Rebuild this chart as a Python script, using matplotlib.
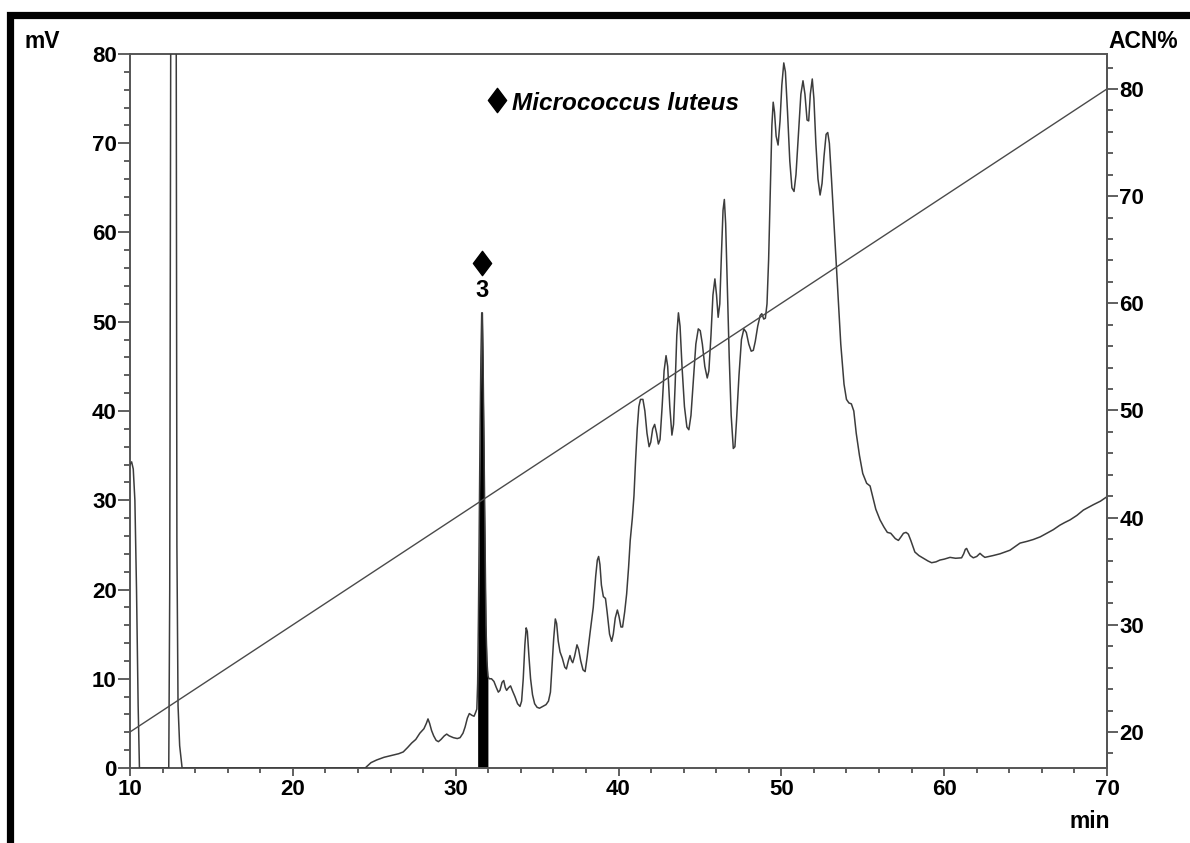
import matplotlib
matplotlib.use("Agg")
import matplotlib.pyplot as plt
import numpy as np
from matplotlib.lines import Line2D
from matplotlib.path import Path
from matplotlib.ticker import MultipleLocator
from matplotlib.transforms import offset_copy

plt.rcParams["font.family"] = ["Liberation Sans", "DejaVu Sans"]
plt.rcParams["font.weight"] = "bold"

# chromatogram trace (min, mV)
time_min = [
    10.00, 10.10, 10.20, 10.30, 10.40, 10.50, 10.58,
    12.38, 12.44, 12.50, 12.56, 12.68, 12.80, 12.84, 12.88, 12.95, 13.05, 13.20,
    24.45, 24.53, 24.80, 25.15, 25.60, 26.16, 26.50, 26.78, 27.05, 27.30, 27.55,
    27.80, 28.05, 28.20, 28.30, 28.40, 28.52, 28.65, 28.80, 28.94, 29.10, 29.30,
    29.45, 29.60, 29.86, 30.10, 30.27, 30.45, 30.58, 30.72, 30.84, 31.00, 31.13,
    31.22, 31.30,
    31.35, 31.40, 31.45, 31.50, 31.55, 31.60, 31.64, 31.68, 31.74, 31.80, 31.86,
    31.92, 31.98,
    32.05, 32.20, 32.35, 32.50, 32.62, 32.72, 32.85, 32.95, 33.05, 33.13, 33.25,
    33.37, 33.50, 33.64, 33.80, 33.95, 34.05, 34.15, 34.25, 34.33, 34.40, 34.50,
    34.60, 34.72, 34.85, 35.00, 35.15, 35.35, 35.55, 35.70, 35.82, 35.92, 36.02,
    36.12, 36.20, 36.30, 36.41, 36.55, 36.70, 36.80, 36.92, 37.02, 37.12, 37.19,
    37.30, 37.45, 37.55, 37.68, 37.82, 37.95, 38.08, 38.25, 38.45, 38.60, 38.70,
    38.78, 38.86, 38.95, 39.07, 39.20, 39.30, 39.45, 39.58, 39.68, 39.80, 39.93,
    40.03, 40.15, 40.25, 40.38, 40.50, 40.62, 40.72, 40.85, 40.95, 41.05, 41.15,
    41.25, 41.35, 41.50, 41.62, 41.75, 41.88, 41.98, 42.10, 42.22, 42.34, 42.45,
    42.55, 42.68, 42.80, 42.92, 43.02, 43.15, 43.28, 43.38, 43.48, 43.58, 43.68,
    43.78, 43.90, 44.05, 44.20, 44.32, 44.45, 44.60, 44.75, 44.90, 45.02, 45.15,
    45.30, 45.45, 45.55, 45.68, 45.80, 45.92, 46.02, 46.12, 46.22, 46.32, 46.42,
    46.50, 46.58, 46.68, 46.80, 46.92, 47.05, 47.15, 47.25, 47.40, 47.55, 47.70,
    47.85, 48.00, 48.15, 48.28, 48.40, 48.55, 48.70, 48.80, 48.92, 49.02, 49.12,
    49.22, 49.32, 49.42, 49.50, 49.58, 49.68, 49.80, 49.92, 50.03, 50.15, 50.25,
    50.38, 50.52, 50.65, 50.78, 50.90, 51.05, 51.20, 51.33, 51.45, 51.58, 51.68,
    51.78, 51.90, 52.00, 52.12, 52.25, 52.38, 52.50, 52.62, 52.75, 52.85, 52.95,
    53.08, 53.25, 53.45, 53.65, 53.85, 54.00, 54.15, 54.30, 54.45, 54.60, 54.80,
    55.00, 55.24, 55.45, 55.60, 55.80, 56.06, 56.30, 56.51, 56.72, 57.00, 57.19,
    57.35, 57.50, 57.66, 57.80, 57.95, 58.20, 58.45, 58.72, 59.00, 59.23, 59.50,
    59.74, 60.00, 60.36, 60.70, 61.07, 61.20, 61.30, 61.38, 61.48, 61.60, 61.79,
    62.00, 62.20, 62.35, 62.50, 63.00, 63.43, 64.04, 64.66, 65.10, 65.47, 65.90,
    66.30, 66.70, 67.10, 67.40, 67.73, 68.15, 68.55, 68.85, 69.16, 69.60, 70.00,
]
signal_mv = [
    34.0, 34.3, 33.5, 30.0, 20.0, 7.0, 0.0,
    0.0, 20.0, 80.0, 150.0, 200.0, 150.0, 80.0, 25.0, 7.0, 2.5, 0.0,
    0.0, 0.15, 0.6, 0.9, 1.2, 1.45, 1.6, 1.8, 2.3, 2.8, 3.2,
    3.9, 4.4, 5.0, 5.5, 5.0, 4.2, 3.6, 3.1, 2.95, 3.2, 3.6,
    3.8, 3.6, 3.4, 3.3, 3.4, 3.9, 4.6, 5.6, 6.1, 5.9, 5.8,
    6.2, 6.6,
    9.5, 17.0, 28.0, 38.0, 46.0, 51.0, 51.0, 46.0, 36.0, 25.0, 16.0,
    12.0, 10.3,
    10.0, 10.0, 9.7, 9.0, 8.5, 8.7, 9.6, 9.8, 9.0, 8.7, 9.0,
    9.2, 8.6, 8.0, 7.2, 6.9, 7.5, 10.0, 13.8, 15.7, 15.3, 12.5,
    10.0, 8.2, 7.2, 6.8, 6.7, 6.9, 7.1, 7.5, 8.5, 11.5, 14.5,
    16.7, 16.2, 14.2, 13.0, 12.3, 11.3, 11.1, 12.0, 12.6, 12.0, 11.8,
    12.5, 13.8, 13.3, 12.0, 11.0, 10.8, 12.5, 15.1, 18.0, 21.5, 23.3,
    23.7, 22.8, 20.5, 19.2, 19.0, 17.5, 15.0, 14.2, 15.0, 16.8, 17.7,
    17.0, 15.8, 15.8, 17.5, 19.5, 22.5, 25.5, 28.0, 30.5, 34.5, 38.0,
    40.5, 41.3, 41.3, 40.0, 37.5, 36.0, 36.5, 38.0, 38.5, 37.5, 36.3,
    36.8, 40.5, 44.5, 46.2, 45.0, 40.5, 37.3, 38.5, 43.0, 48.5, 51.0,
    49.5, 45.0, 40.5, 38.2, 37.9, 39.5, 43.5, 47.5, 49.2, 49.0, 47.5,
    45.0, 43.7, 44.5, 48.5, 53.0, 54.8, 53.0, 50.5, 52.0, 57.5, 62.5,
    63.7, 61.0, 54.0, 46.0, 39.5, 35.8, 36.0, 39.0, 44.0, 48.0, 49.2,
    48.8, 47.5, 46.7, 46.8, 47.8, 49.5, 50.7, 50.9, 50.3, 50.4, 52.0,
    57.0, 64.5, 72.0, 74.6, 73.5, 70.8, 69.8, 72.5, 76.5, 79.0, 78.0,
    73.5, 68.0, 65.0, 64.6, 66.5, 71.0, 75.5, 77.0, 75.5, 72.6, 72.5,
    75.5, 77.2, 75.0, 70.0, 66.0, 64.2, 65.5, 68.5, 71.0, 71.2, 70.0,
    66.0, 60.5, 54.0, 47.5, 43.0, 41.3, 40.9, 40.8, 40.0, 37.5, 35.0,
    33.0, 31.9, 31.6, 30.5, 29.0, 27.8, 27.0, 26.4, 26.3, 25.7, 25.5,
    25.9, 26.3, 26.4, 26.2, 25.5, 24.2, 23.8, 23.5, 23.2, 23.0, 23.1,
    23.3, 23.4, 23.6, 23.5, 23.55, 24.0, 24.5, 24.6, 24.2, 23.8, 23.55,
    23.7, 24.05, 23.8, 23.6, 23.8, 24.0, 24.4, 25.2, 25.4, 25.6, 25.9,
    26.3, 26.7, 27.2, 27.5, 27.8, 28.3, 28.9, 29.2, 29.5, 29.9, 30.4,
]

# gradient program (min, ACN %)
gradient_min = [10, 70]
gradient_acn = [20, 80]

# marked peak 3 (integrated window) and its label
peak3_window = (31.35, 31.98)
peak3_label = "3"
species_label = "Micrococcus luteus"

DIAMOND = Path([(0, 1), (0.75, 0), (0, -1), (-0.75, 0), (0, 1)],
               [Path.MOVETO, Path.LINETO, Path.LINETO, Path.LINETO, Path.CLOSEPOLY])

t = np.array(time_min)
s = np.array(signal_mv)

fig = plt.figure(figsize=(11.9, 8.43), dpi=100)
ax = fig.add_axes([130 / 1190, 75 / 843, 977 / 1190, 714 / 843])
ax2 = ax.twinx()

in_peak = (t >= peak3_window[0]) & (t <= peak3_window[1])
ax.fill_between(t, s, 0, where=in_peak, color="black", lw=0, zorder=2)
ax.plot(t, s, color="#3c3c3c", lw=1.1, zorder=3)
ax2.plot(gradient_min, gradient_acn, color="#4a4a4a", lw=1.0)

ax.set_xlim(10, 70)
ax.set_ylim(0, 80)
ax2.set_ylim(16.64, 83.26)

ax.xaxis.set_major_locator(MultipleLocator(10))
ax.xaxis.set_minor_locator(MultipleLocator(2))
ax.yaxis.set_major_locator(MultipleLocator(10))
ax.yaxis.set_minor_locator(MultipleLocator(2))
ax2.yaxis.set_major_locator(MultipleLocator(10))
ax2.yaxis.set_minor_locator(MultipleLocator(2))

tick_kw = dict(direction="out", color="#444444", width=1.2, labelsize=16)
ax.tick_params(axis="y", which="major", length=8.5, pad=1, **tick_kw)
ax.tick_params(axis="y", which="minor", length=4, **tick_kw)
ax.tick_params(axis="x", which="major", length=6, pad=2, **tick_kw)
ax.tick_params(axis="x", which="minor", length=3.5, **tick_kw)
ax2.tick_params(axis="y", which="major", length=8, pad=1, **tick_kw)
ax2.tick_params(axis="y", which="minor", length=4, **tick_kw)

for spine in ax.spines.values():
    spine.set_color("#555555")
    spine.set_linewidth(1.4)
for name in ["left", "top", "bottom"]:
    ax2.spines[name].set_visible(False)
ax2.spines["right"].set_color("#555555")
ax2.spines["right"].set_linewidth(1.4)

# peak 3 marker and number above the apex
apex = int(np.argmax(np.where(in_peak, s, -1)))
apex_t = (t[apex] + t[apex + 1]) / 2
ax.plot(apex_t, s[apex], marker=DIAMOND, ms=17.5, color="black", clip_on=False,
        transform=offset_copy(ax.transData, fig, x=0, y=36, units="points"))
ax.annotate(peak3_label, (apex_t, s[apex]), xytext=(0, 16), textcoords="offset points",
            ha="center", va="center", fontsize=17, fontweight="bold")

# species legend
ax.plot(0.376, 0.935, marker=DIAMOND, ms=17.5, color="black", transform=ax.transAxes,
        clip_on=False)
ax.text(0.391, 0.931, species_label, transform=ax.transAxes, ha="left", va="center",
        fontsize=17.5, fontweight="bold", fontstyle="italic")

fig.text(42 / 1190, 1 - 41 / 843, "mV", ha="center", va="center", fontsize=16.5, fontweight="bold")
fig.text(1143 / 1190, 1 - 41 / 843, "ACN%", ha="center", va="center", fontsize=16.5, fontweight="bold")
fig.text(1090 / 1190, 1 - 821 / 843, "min", ha="center", va="center", fontsize=16.5, fontweight="bold")

# thick black frame at the left and top edges
x0, y0 = 9.7 / 1190, 1 - 14.5 / 843
fig.add_artist(Line2D([x0, x0, 1.0], [0.0, y0, y0], transform=fig.transFigure,
                      color="black", lw=5.2, solid_joinstyle="miter"))

fig.savefig("out.png", dpi=100)
plt.close(fig)
